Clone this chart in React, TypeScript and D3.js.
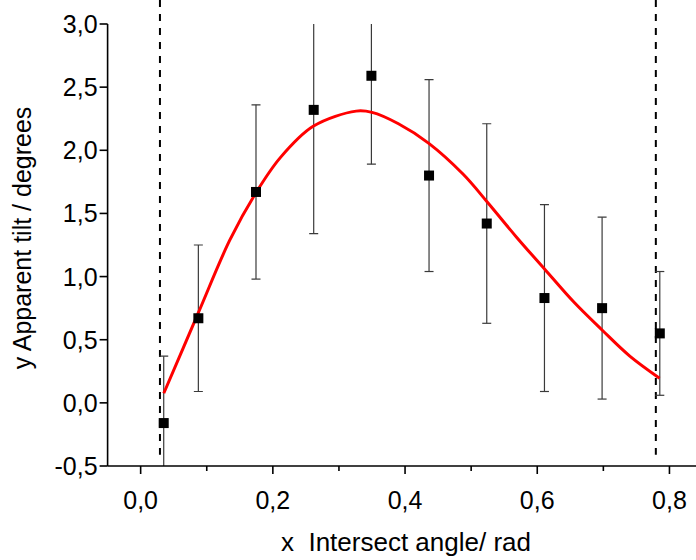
import React from "react";
import * as d3 from "d3";

const angles = [0.0349, 0.0873, 0.1745, 0.2618, 0.3491, 0.4363, 0.5236, 0.6109, 0.6981, 0.7854];
const tilts = [-0.16, 0.67, 1.67, 2.32, 2.59, 1.8, 1.42, 0.83, 0.75, 0.55];
const errors = [0.53, 0.58, 0.69, 0.98, 0.7, 0.76, 0.79, 0.74, 0.72, 0.49];

const fitX = [0.035, 0.087, 0.135, 0.174, 0.211, 0.261, 0.326, 0.35, 0.39, 0.436, 0.488, 0.524, 0.569, 0.611, 0.655, 0.698, 0.74, 0.785];
const fitY = [0.076, 0.71, 1.29, 1.66, 1.94, 2.19, 2.31, 2.3, 2.21, 2.055, 1.81, 1.593, 1.31, 1.06, 0.8, 0.577, 0.37, 0.195];

const limitLines = [0.0292, 0.7794];

const xTicks = [0, 0.2, 0.4, 0.6, 0.8];
const xMinorTicks = [0.1, 0.3, 0.5, 0.7];
const yTicks = [-0.5, 0, 0.5, 1, 1.5, 2, 2.5, 3];

const xLabel = "x  Intersect angle/ rad";
const yLabel = "y Apparent tilt / degrees";

const fmt = (v: number) => v.toFixed(1).replace(".", ",");

export default function App() {
  const W = 696;
  const H = 560;
  const x = d3.scaleLinear().domain([-0.05, 0.85]).range([107.6, 702.5]);
  const y = d3.scaleLinear().domain([-0.5, 3]).range([466, 24]);
  const font = "'Liberation Sans', Arial, sans-serif";

  const line = d3
    .line<number>()
    .x((_, i) => x(fitX[i]))
    .y((d) => y(d))
    .curve(d3.curveCatmullRom.alpha(0.5));

  const x0 = x(-0.05);
  const yBase = y(-0.5);

  return (
    <svg width={W} height={H} style={{ position: "absolute", left: 0, top: 0, background: "#fff" }}>
      <defs>
        <clipPath id="plotclip">
          <rect x={x0} y={y(3)} width={W - x0} height={yBase - y(3)} />
        </clipPath>
      </defs>
      {limitLines.map((v, i) => (
        <line
          key={"lim" + i}
          x1={x(v)}
          x2={x(v)}
          y1={y(3.19)}
          y2={y(-0.41)}
          stroke="#000"
          strokeWidth={2}
          strokeDasharray="7,7"
        />
      ))}
      <g clipPath="url(#plotclip)">
        {angles.map((a, i) => {
          const cx = x(a);
          const top = y(tilts[i] + errors[i]);
          const bot = y(tilts[i] - errors[i]);
          return (
            <g key={"eb" + i} stroke="#3a3a3a" strokeWidth={1.2}>
              <line x1={cx} x2={cx} y1={top} y2={bot} />
              <line x1={cx - 4.5} x2={cx + 4.5} y1={top} y2={top} />
              <line x1={cx - 4.5} x2={cx + 4.5} y1={bot} y2={bot} />
            </g>
          );
        })}
      </g>
      <path d={line(fitY) || ""} fill="none" stroke="#ff0000" strokeWidth={3} />
      {angles.map((a, i) => (
        <rect key={"m" + i} x={x(a) - 5} y={y(tilts[i]) - 5} width={10} height={10} fill="#000" />
      ))}
      <line x1={x0} x2={x0} y1={y(3)} y2={yBase} stroke="#000" strokeWidth={1.6} />
      <line x1={x0} x2={W} y1={yBase} y2={yBase} stroke="#000" strokeWidth={1.6} />
      {yTicks.map((t) => (
        <g key={"yt" + t}>
          <line x1={x0 - 8} x2={x0} y1={y(t)} y2={y(t)} stroke="#000" strokeWidth={1.6} />
          <text x={x0 - 10} y={y(t)} dy="0.36em" textAnchor="end" fontFamily={font} fontSize={25}>
            {fmt(t)}
          </text>
        </g>
      ))}
      {xTicks.map((t) => (
        <g key={"xt" + t}>
          <line x1={x(t)} x2={x(t)} y1={yBase} y2={yBase + 8} stroke="#000" strokeWidth={1.6} />
          <text x={x(t)} y={yBase + 43} textAnchor="middle" fontFamily={font} fontSize={25}>
            {fmt(t)}
          </text>
        </g>
      ))}
      {xMinorTicks.map((t) => (
        <line key={"xm" + t} x1={x(t)} x2={x(t)} y1={yBase} y2={yBase + 5} stroke="#000" strokeWidth={1.6} />
      ))}
      <text
        x={406}
        y={551}
        textAnchor="middle"
        fontFamily={font}
        fontSize={26}
        style={{ whiteSpace: "pre" }}
      >
        {xLabel}
      </text>
      <text
        transform={`translate(31, 238) rotate(-90)`}
        textAnchor="middle"
        fontFamily={font}
        fontSize={25}
        style={{ whiteSpace: "pre" }}
      >
        {yLabel}
      </text>
    </svg>
  );
}
